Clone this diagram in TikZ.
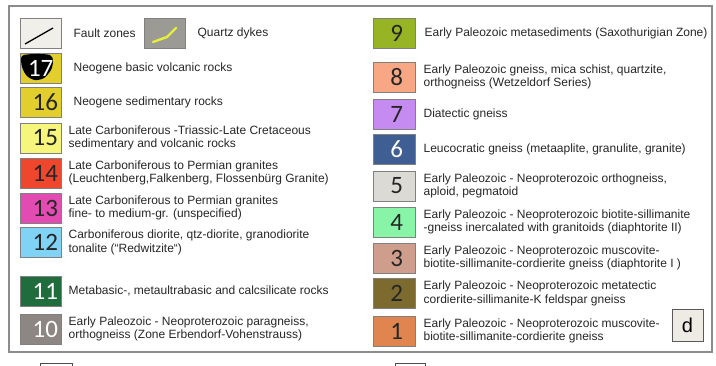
\documentclass[tikz,border=0pt]{standalone}
\usepackage{fontspec}
\setmainfont{Liberation Sans}
\newfontfamily\numfont{Carlito}
\usetikzlibrary{positioning}
\definecolor{framegray}{HTML}{8C8C8C}
\definecolor{edgegray}{HTML}{808080}
\definecolor{textgray}{HTML}{262626}
\definecolor{faultfill}{HTML}{F1EFEA}
\definecolor{dykefill}{HTML}{9B9A94}
\definecolor{dykeline}{HTML}{E6EE3C}
\definecolor{neoyellow}{HTML}{E2CF2E}
\definecolor{paleyellow}{HTML}{F6F57C}
\definecolor{granitered}{HTML}{EE472D}
\definecolor{granitepink}{HTML}{E24CB2}
\definecolor{dioriteblue}{HTML}{80D3F4}
\definecolor{basicgreen}{HTML}{1F6D3D}
\definecolor{paragray}{HTML}{8D8683}
\definecolor{saxogreen}{HTML}{97B424}
\definecolor{wetzsalmon}{HTML}{F8A784}
\definecolor{diaviolet}{HTML}{C68BF0}
\definecolor{leucoblue}{HTML}{3F5E93}
\definecolor{orthogray}{HTML}{DCDAD5}
\definecolor{biomint}{HTML}{88F4A8}
\definecolor{muscrose}{HTML}{CE9D8C}
\definecolor{metabrown}{HTML}{7D6A2F}
\definecolor{muscorange}{HTML}{E0854F}
\definecolor{dfill}{HTML}{EEEAE4}
\begin{document}
\begin{tikzpicture}[x=1pt,y=-1pt,
  swatch/.style={draw=edgegray,line width=0.8pt,minimum width=41pt,minimum height=30pt,
    inner ysep=0pt,font=\numfont\fontsize{25}{25}\selectfont,text=textgray},
  numl/.style={swatch,text width=35pt,inner xsep=3pt,align=right},
  numr/.style={swatch,minimum width=42pt,text width=18pt,inner xsep=12pt,align=right},
  desc/.style={inner sep=0pt,align=left,text=textgray,font=\fontsize{12}{13.5}\selectfont},
  dbox/.style={draw=black!65,line width=0.8pt,fill=dfill,minimum width=31pt,minimum height=32pt,
    font=\fontsize{20}{20}\selectfont},
]
\useasboundingbox (0,0) rectangle (716,365);
% legend frame
\draw[framegray,line width=1.2pt] (9,6) rectangle (712,352);
\draw[black!70,line width=0.8pt,fill=white] (40,363) rectangle (72,380);
\draw[black!70,line width=0.8pt,fill=white] (395,363) rectangle (425,380);
% left column
\node[swatch,fill=faultfill] (fault) at (40.5,33.5) {};
\draw[line width=1.3pt] ([shift={(-15.5,10.5)}]fault.center) -- ([shift={(12.5,-5.5)}]fault.center);
\node[desc,right=12pt of fault] (tfault) {Fault zones};
\node[swatch,fill=dykefill] (dyke) at (164.5,33.5) {};
\draw[dykeline,line width=2.4pt,line cap=round]
  ([shift={(-11.5,8.5)}]dyke.center) -- ([shift={(2.5,3.5)}]dyke.center) -- ([shift={(11.5,-5.5)}]dyke.center);
\node[desc,right=12pt of dyke] (tdyke) {Quartz dykes};
\node[swatch,fill=neoyellow] (s17) at (40.5,68) {};
\fill[black] plot[smooth cycle] coordinates
  {(22,56) (35,54) (50,55) (53,61) (51,70) (44,78) (35,80) (27,76) (22,67)};
\node[numl,draw=none,text width=25pt,inner xsep=8pt,text=white] (n17) at (s17.center) {17};
\node[desc,right=12pt of s17] (t17) {Neogene basic volcanic rocks};
\node[numl,fill=neoyellow] (s16) at (40.5,102) {16};
\node[desc,right=12pt of s16] (t16) {Neogene sedimentary rocks};
\node[numl,fill=paleyellow] (s15) at (40.5,138) {15};
\node[desc,right=7pt of s15] (t15) {Late Carboniferous -Triassic-Late Cretaceous\\sedimentary and volcanic rocks};
\node[numl,fill=granitered] (s14) at (40.5,173) {14};
\node[desc,right=7pt of s14] (t14) {Late Carboniferous to Permian granites\\(Leuchtenberg,Falkenberg, Flossenbürg Granite)};
\node[numl,fill=granitepink] (s13) at (40.5,208) {13};
\node[desc,right=7pt of s13] (t13) {Late Carboniferous to Permian granites\\fine- to medium-gr. (unspecified)};
\node[numl,fill=dioriteblue] (s12) at (40.5,242.5) {12};
\node[desc,right=7pt of s12] (t12) {Carboniferous diorite, qtz-diorite, granodiorite\\tonalite (“Redwitzite“)};
\node[numl,fill=basicgreen,text=white] (s11) at (40.5,291) {11};
\node[desc,right=7pt of s11] (t11) {Metabasic-, metaultrabasic and calcsilicate rocks};
\node[numl,fill=paragray,text=white] (s10) at (40.5,329) {10};
\node[desc,right=7pt of s10] (t10) {Early Paleozoic - Neoproterozoic paragneiss,\\orthogneiss (Zone Erbendorf-Vohenstrauss)};
% right column
\node[numr,fill=saxogreen] (s9) at (394,33.5) {9};
\node[desc,right=9pt of s9] (t9) {Early Paleozoic metasediments (Saxothurigian Zone)};
\node[numr,fill=wetzsalmon] (s8) at (394,77) {8};
\node[desc,right=8pt of s8] (t8) {Early Paleozoic gneiss, mica schist, quartzite,\\orthogneiss (Wetzeldorf Series)};
\node[numr,fill=diaviolet] (s7) at (394,114) {7};
\node[desc,right=8pt of s7] (t7) {Diatectic gneiss};
\node[numr,fill=leucoblue,text=white] (s6) at (394,149.5) {6};
\node[desc,right=8pt of s6] (t6) {Leucocratic gneiss (metaaplite, granulite, granite)};
\node[numr,fill=orthogray] (s5) at (394,186) {5};
\node[desc,right=8pt of s5] (t5) {Early Paleozoic - Neoproterozoic orthogneiss,\\aploid, pegmatoid};
\node[numr,fill=biomint] (s4) at (394,222) {4};
\node[desc,right=8pt of s4] (t4) {Early Paleozoic - Neoproterozoic biotite-sillimanite\\-gneiss inercalated with granitoids (diaphtorite II)};
\node[numr,fill=muscrose] (s3) at (394,258) {3};
\node[desc,right=8pt of s3] (t3) {Early Paleozoic - Neoproterozoic muscovite-\\biotite-sillimanite-cordierite gneiss (diaphtorite I )};
\node[numr,fill=metabrown] (s2) at (394,293.5) {2};
\node[desc,right=8pt of s2] (t2) {Early Paleozoic - Neoproterozoic metatectic\\cordierite-sillimanite-K feldspar gneiss};
\node[numr,fill=muscorange] (s1) at (394,331) {1};
\node[desc,right=8pt of s1] (t1) {Early Paleozoic - Neoproterozoic muscovite-\\biotite-sillimanite-cordierite gneiss};
\node[dbox] (dlabel) at (687.5,325.5) {d};
\end{tikzpicture}
\end{document}
